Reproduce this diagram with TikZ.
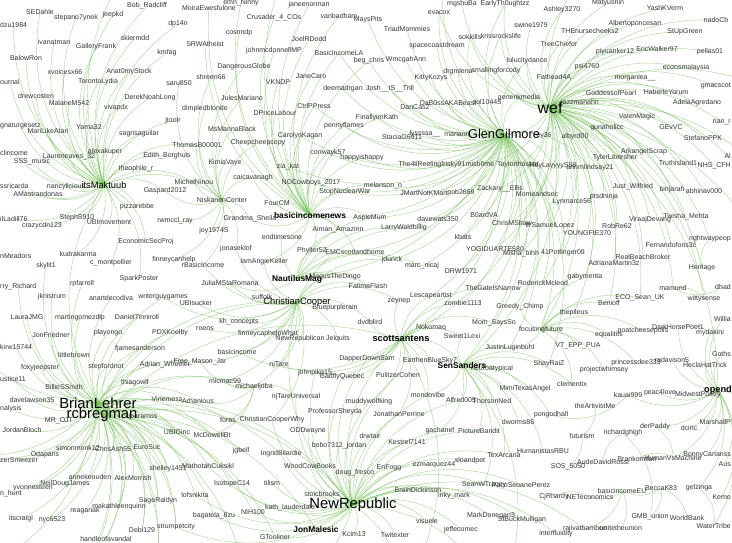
\documentclass[tikz,border=0pt]{standalone}
\usepackage{fontspec}
\setmainfont{Liberation Sans}
\usetikzlibrary{backgrounds}
\definecolor{labgray}{RGB}{55,55,55}
\definecolor{edgegreen}{RGB}{112,192,82}
\tikzset{
  lab/.style={font=\fontsize{7}{8}\selectfont, text=labgray, inner sep=0pt},
  hubwef/.style={font=\fontsize{16}{18}\selectfont, text=black, inner sep=0pt},
  hubglen/.style={font=\fontsize{12.8}{14}\selectfont, text=black, inner sep=0pt},
  hubbig/.style={font=\fontsize{14.8}{16}\selectfont, text=black, inner sep=0pt},
  hubmid/.style={font=\fontsize{9.3}{10}\selectfont, text=black, inner sep=0pt},
  hubbold/.style={font=\bfseries\fontsize{8.4}{9}\selectfont, text=black, inner sep=0pt},
  hubscott/.style={font=\bfseries\fontsize{9.2}{10}\selectfont, text=black, inner sep=0pt},
  conn/.style={draw=edgegreen, line width=0.45pt, opacity=0.6},
}
\newcommand\nd[4]{\node[lab] (#1) at (#2,#3) {#4};}
\newcommand\ndw[4]{\node[lab,anchor=west] (#1) at (#2,#3) {#4};}
\newcommand\nde[4]{\node[lab,anchor=east] (#1) at (#2,#3) {#4};}
\begin{document}
\begin{tikzpicture}[x=1pt,y=-1pt]
\useasboundingbox (0,0) rectangle (732,542);
% ---------- hubs
\node[hubwef] (wef) at (550,108) {wef};
\node[hubglen] (glen) at (504,134) {GlenGilmore};
\node[hubbig] (brian) at (98,403) {BrianLehrer};
\node[hubbig] (rcb) at (102,415) {rcbregman};
\node[hubbig] (newrep) at (353,505) {NewRepublic};
\node[hubmid] (itsmaktuub) at (104,185) {itsMaktuub};
\node[hubmid] (christian) at (297,302) {ChristianCooper};
\node[hubbold] (nautilus) at (297,279) {NautilusMag};
\node[hubbold] (bin) at (310,215) {basicincomenews};
\node[hubscott] (scott) at (401,339) {scottsantens};
\node[hubbold] (sensanders) at (462,365) {SenSanders};
\node[hubbold] (jonmalesic) at (316,529) {JonMalesic};
\node[hubscott,anchor=east] (opend) at (732,390) {opend};
% ---------- top-left
\nd{sedahle}{40}{12}{SEDahle}
\nd{stepano}{76}{18}{stepano7ynek}
\nd{jeepkd}{113}{15}{jeepkd}
\nd{bobrad}{147}{6}{Bob\_Radcliff}
\ndw{dzu}{0}{25}{dzu1984}
\nd{ivanatman}{54}{42}{ivanatman}
\nd{galleryfrank}{96}{47}{GalleryFrank}
\nd{skiermdd}{135}{38}{skiermdd}
\nd{dpfourteen}{178}{24}{dp14n}
\nd{kmfag}{167}{53}{kmfag}
\nd{balowron}{26}{58}{BalowRon}
\ndw{ournal}{0}{82}{ournal}
\nd{xvoices}{65}{72}{xvoicesx66}
\nd{anatomy}{129}{72}{Anat0myStock}
\nd{toronto}{98}{82}{TorontoLydia}
\nd{saru}{179}{83}{saru850}
\nd{drewcosten}{36}{96}{drewcosten}
\nd{malarie}{69}{103}{MalarieM542}
\nd{dereknoah}{150}{98}{DerekNoahLong}
\nd{vivapdx}{116}{108}{vivapdx}
\nd{dimpled}{205}{109}{dimpledblonde}
\ndw{gnatur}{0}{126}{gnaturgesetz}
\nd{jtoolr}{173}{121}{jtoolr}
\nd{marilike}{48}{131}{MariLikeAtari}
\nd{yama}{89}{127}{Yama32}
\nd{sagris}{139}{134}{sagrisaguilar}
\nd{thomasb}{197}{145}{ThomasB00001}
\ndw{clincome}{0}{153}{clincome}
\nd{alexakuper}{105}{152}{alexakuper}
\nd{sssmusic}{32}{162}{SSS\_music}
\nd{laureneaves}{69}{157}{Laureneaves\_32}
\nd{edith}{167}{156}{Edith\_Borghuis}
\nd{theophile}{136}{169}{theophile\_r}
\nd{michelninou}{194}{182}{MichelNinou}
% ---------- top-middle
\nd{emnninny}{241}{3}{emn\_Ninny}
\nd{moira}{209}{8}{MoiraEwesfulone}
\nd{janeen}{309}{5}{janeenorman}
\nd{crusader}{274}{18}{Crusader\_4\_COs}
\nd{vanbadham}{339}{16}{vanbadham}
\nd{mayspits}{368}{20}{MaysPits}
\nd{cosnndp}{239}{33}{cosnndp}
\nd{srwatheist}{205}{44}{SRWAtheist}
\nd{joelrdodd}{309}{39}{JoelRDodd}
\nd{johnmcd}{274}{51}{johnmcdonnellMP}
\nd{basicla}{339}{53}{BasicIncomeLA}
\nd{begchris}{369}{61}{beg\_chris}
\nd{dangerous}{244}{67}{DangerousGlobe}
\nd{shreen}{211}{77}{shreen66}
\nd{vkndp}{278}{82}{VKNDP}
\nd{janecaro}{311}{76}{JaneCaro}
\nd{deemadrgan}{343}{89}{deemadrgan}
\nd{joshis}{390}{89}{Josh\_\_IS\_\_Trill}
\nd{julesmariano}{242}{98}{JulesMariano}
\nd{ctrlp}{314}{106}{CtrlPPress}
\nd{dprice}{275}{113}{DPriceLabour}
\nd{finally}{377}{118}{FinallyimKath}
\nd{penny}{344}{126}{pennyflames}
\nd{msmarina}{232}{129}{MsMarinaBlack}
\nd{carolyn}{300}{136}{CarolynKagan}
\nd{cheep}{258}{143}{Cheepcheepcopy}
\nd{conwayk}{328}{153}{conwayk57}
\nd{happyis}{362}{158}{happyishappy}
\nd{kimia}{225}{163}{KimiaVaye}
\nd{ziakat}{288}{167}{zia\_kat}
\nd{caicavanagh}{253}{178}{caicavanagh}
\nd{nocowboys}{311}{183}{NOCowboys\_2017}
% ---------- top, around GlenGilmore
\nd{mgshu}{462}{4}{mgshuBa}
\nd{early}{505}{4}{EarlyTh0ughtzz}
\nd{evacox}{439}{13}{evacox}
\nd{ashley}{562}{10}{Ashley3270}
\nd{triad}{407}{29}{TriadMommies}
\nd{swine}{531}{25}{swine1979}
\nd{sokkills}{470}{37}{sokkills}
\nd{kriss}{501}{36}{krissrockslife}
\nd{spacecoast}{437}{46}{spacecoastdream}
\nd{treechief}{559}{44}{TreeChiefor}
\nd{wmcgah}{406}{60}{WmcgahAnn}
\nd{lulucity}{527}{61}{lulucitydance}
\nd{drgmlena}{458}{72}{drgmlena}
\nd{smalling}{496}{71}{smallingforcody}
\nd{fathead}{554}{77}{Fathead4A}
\nd{kitty}{431}{78}{KittyKozys}
\nd{generik}{519}{98}{generikmedia}
\nd{dabossaka}{448}{103}{DaB0ssAKABeast}
\nd{sol}{487}{102}{sol10445}
\nd{dancas}{415}{107}{DanCas2}
\nd{stacia}{402}{137}{StaciaG6911}
\nd{lyssa}{425}{134}{lyssssa\_\_}
\nd{mariann}{457}{134}{mariann}
\nd{the4ll}{432}{165}{The4llReelingfrisky91}
\nd{misb}{480}{164}{misb0me}
\nd{taylor}{518}{165}{Taylorthasbat}
\nd{eythirtysix}{544}{136}{ey36}
\nd{heylay}{553}{166}{HeyLayyyyS58}
% ---------- top-right
\nd{matyushin}{608}{3}{Matyushin}
\nd{yashk}{665}{8}{YashKVerm}
\nd{alberto}{635}{24}{Albertoponcesan}
\nd{thenurse}{590}{31}{THEnursecheeks2}
\nd{nadocb}{716}{20}{nadoCb}
\nd{stupgreen}{685}{32}{StUpGreen}
\nd{piyuan}{615}{52}{piyuanker12}
\nd{ericwalker}{657}{49}{EricWalker97}
\nd{pellas}{710}{52}{pellas01}
\nd{psi}{587}{67}{psi4760}
\nd{econs}{686}{68}{econsmalaysia}
\nd{morganlea}{635}{78}{morganlea\_\_}
\nde{gmacs}{731}{86}{gmacscot}
\nd{goddess}{611}{93}{GoddessofPearl}
\nd{haberle}{666}{92}{HaberleYorum}
\nd{jazzman}{580}{103}{jazzmanahn}
\nd{adela}{697}{103}{AdelaAgredano}
\nd{valen}{637}{117}{ValenMagic}
\nde{rianr}{731}{122}{rian\_r}
\nd{gunaholicc}{607}{128}{gunaholicc}
\nd{gevvc}{671}{127}{GEvVC}
\nd{albyrd}{575}{137}{albyrd00}
\nd{stefano}{703}{138}{StefanoPPK}
\nd{arkangel}{644}{152}{ArkangelScrap}
\nd{tyler}{615}{158}{TylerLibersher}
\nd{truthisland}{678}{163}{Truthisland1}
\nde{nhscfh}{731}{166}{NHS\_CFH}
\nde{al}{731}{156}{Al}
\nd{annm}{590}{168}{annmlindsay21}
% ---------- middle right
\nd{melanson}{383}{186}{melanson\_n}
\nd{stopnuclear}{345}{192}{StopNuclearWar}
\nd{jmart}{424}{193}{JMartNotKMart}
\nd{pob}{461}{193}{pob2669}
\nd{zackary}{500}{189}{Zackary\_\_Ellis}
\nd{momeand}{537}{194}{Momeandsec}
\nd{lynmarce}{572}{202}{Lynmarce56}
\nd{ptsd}{604}{197}{ptsdninja}
\nd{justwil}{633}{187}{Just\_Wilfried}
\nd{binjarah}{672}{190}{binjarah}
\nd{abhinav}{704}{191}{abhinav000}
\nd{boardva}{484}{215}{B0ardVA}
\nd{davewats}{438}{219}{davewats350}
\nd{larryw}{404}{228}{LarryWaldbillig}
\nd{chrism}{512}{223}{ChrisMShaw}
\nd{lfrsamuel}{550}{226}{lfrSamuelLopez}
\nd{kbats}{463}{237}{kbats}
\nd{youngfie}{587}{233}{YOUNGFIE370}
\nd{robre}{617}{226}{RobRe62}
\nd{viraaj}{650}{220}{ViraajDevang}
\nd{twisha}{686}{217}{Twisha\_Mehta}
\nd{yogi}{495}{249}{YOGIDUARTE580}
\nd{misha}{521}{254}{Misha\_bihh}
\nd{pottinger}{563}{253}{41Pottinger09}
\nd{fernando}{671}{245}{Fernandofons3c}
\nde{rightway}{731}{239}{rightwaypeop}
\nd{realbeach}{643}{257}{RealBeachBroker}
\nd{adriana}{614}{263}{AdrianaMartin3z}
\nd{heritage}{702}{268}{Heritage}
\nd{jdunck}{392}{260}{jdunck}
\nd{marcnicaj}{422}{266}{marc\_nicaj}
\nd{drw}{461}{271}{DRW1971}
\nd{gabymenta}{585}{277}{gabymenta}
\nd{roderick}{543}{283}{RoderickMcleod}
\nd{thegate}{493}{288}{TheGateIsNarrow}
\nd{mamund}{673}{288}{mamund}
\nde{dhad}{731}{287}{dhad}
\nd{lescape}{431}{296}{Lescapeartist}
\nd{zeynep}{399}{301}{zeynep}
\nd{zombie}{463}{303}{zombie1113}
\nd{greedy}{520}{307}{Greedy\_Chimp}
\nd{benioff}{609}{303}{Benioff}
\nd{ecosean}{640}{298}{ECO\_Sean\_UK}
\nd{witty}{704}{299}{wittysense}
\nd{thepileus}{574}{313}{thepileus}
\nde{willia}{731}{319}{Willia}
\nd{nokomaq}{431}{328}{Nokomaq}
\nd{momsays}{494}{323}{Mom\_SaysSo}
\nd{focusing}{541}{330}{focusingfuture}
\nd{sweetlexi}{462}{336}{Sweet1Lexi}
\nd{equalitits}{609}{335}{equalitits}
\nd{goatcheese}{643}{331}{goatcheesepolls}
\nd{darkhorse}{678}{327}{DarkHorsePoet1}
\nd{mydakini}{710}{333}{mydakini}
\nd{vtepp}{578}{346}{VT\_EPP\_PUA}
\nd{justinl}{510}{348}{JustinLuginbuhl}
\nde{goths}{731}{354}{Goths}
% ---------- lower right
\nd{shayraiz}{549}{364}{ShayRaiZ}
\nd{princessdee}{636}{363}{princessdee333}
\nd{radavison}{672}{360}{radavison5}
\nd{hecla}{705}{365}{HeclaHatTrick}
\nd{projectwh}{604}{370}{projectwhimsey}
\nd{clementix}{572}{384}{clementix}
\nd{mimitexas}{525}{389}{MimiTexasAngel}
\nd{kauai}{628}{395}{kauai999}
\nd{peac}{660}{393}{peac4love}
\nd{midwest}{698}{395}{MidwestPoetry}
\nd{theartivist}{595}{406}{theArtivistMe}
\nd{pongodhall}{551}{415}{pongodhall}
\nd{dworms}{518}{422}{dworms86}
\nd{derpaddy}{655}{427}{derPaddy}
\nd{dciric}{689}{428}{dciric}
\nde{marshallp}{731}{422}{MarshallP}
\nd{futurism}{582}{436}{futurism}
\nd{richardghigh}{623}{433}{richardghigh}
\nd{humanistas}{543}{451}{HumanistasRBU}
\nd{aude}{603}{462}{AudeDavidRossi}
\nd{branko}{637}{459}{Brankomilan}
\nd{humanvs}{673}{458}{HumanVsMachine}
\nde{bonny}{731}{455}{BonnyCarlanss}
\nde{aus}{731}{464}{Aus}
\nd{sos}{568}{467}{SOS\_5050}
\nd{seanw}{484}{485}{SeanWTracey}
\nd{paco}{521}{485}{PacoSeoanePerez}
\nd{cjrhardy}{554}{497}{CjRhardy}
\nd{neteco}{590}{497}{NETeconomics}
\nd{basiceu}{622}{491}{basicincomeEU}
\nd{becca}{661}{488}{BeccaK83}
\nd{gelzinga}{699}{488}{gelzinga}
\nde{kemo}{731}{497}{Kemo}
\nd{gmb}{650}{517}{GMB\_union}
\nd{worldbank}{687}{518}{WorldBank}
\nde{watertribe}{731}{526}{WaterTribe}
\nd{rajiv}{585}{529}{rajivatbamboo}
\nd{unitethe}{621}{528}{unitetheunion}
\nd{stbuck}{522}{520}{StBuckMulligan}
\nd{interflu}{556}{534}{interfluidity}
% ---------- lower middle
\nd{earthen}{430}{361}{EarthenBlueSky7}
\nd{dapper}{367}{359}{DapperDownSam}
\nd{neuro}{492}{369}{neuroatypical}
\nd{pulitzer}{398}{375}{PulitzerCohen}
\nd{mondovibe}{428}{395}{mondovibe}
\nd{alfred}{461}{400}{Alfred005}
\nd{thorson}{492}{401}{ThorsonNed}
\nd{muddy}{369}{402}{muddywolfking}
\nd{jonathanp}{399}{414}{JonathanPerrine}
\nd{gachanef}{440}{431}{gachanef}
\nd{picture}{479}{431}{PictureBandit}
\nd{drwtair}{370}{436}{drwtair}
\nd{kestrel}{407}{442}{Kestrel7141}
\nd{bobo}{339}{446}{bobo7312\_jordan}
\nd{texarcana}{504}{455}{TexArcana}
\nd{ezmarquez}{434}{465}{ezmarquez44}
\nd{sloandpet}{470}{461}{sloandpet}
\nd{enfogg}{389}{468}{EnFogg}
\nd{dougfresco}{355}{473}{doug\_fresco}
\nd{braind}{418}{490}{BrainDickinson}
\nd{inkymark}{454}{496}{inky\_mark}
\nd{markdon}{491}{516}{MarkDonegan3}
\nd{visuele}{427}{521}{visuele}
\nd{jeffe}{461}{530}{jeffecomec}
\nd{twitexter}{395}{535}{Twitexter}
\nd{kcim}{354}{534}{Kcim13}
\nd{freemason}{200}{362}{Free\_Mason\_Jar}
\nd{njtare}{279}{365}{njTare}
\nd{johnpikg}{315}{373}{johnpikg15}
\nd{gadfly}{342}{377}{GadflyQuebec}
\nd{micmac}{225}{381}{micmac99}
\nd{michaeljdba}{254}{387}{michaeljdba}
\nd{njtareuni}{296}{397}{njTareUniversal}
\nd{arhanious}{198}{401}{Arhanious}
\nd{vinemess}{167}{399}{Vinemess}
\nd{profsheyda}{335}{412}{ProfessorSheyda}
\nd{foras}{228}{420}{foras}
\nd{ccwhy}{272}{420}{ChristianCooperWhy}
\nd{ubiginc}{177}{432}{UBIGinc}
\nd{mcdowell}{212}{435}{McDowellBt}
\nd{oddwayne}{308}{431}{ODDwayne}
\nd{jgbell}{241}{451}{jgbell}
\nd{ingrid}{281}{454}{IngridBilardie}
\nd{woodcow}{310}{466}{WoodCowBooks}
\nd{mathotah}{208}{466}{MathotahCuksikl}
\nd{shelley}{168}{469}{shelley1451}
\nd{isotope}{232}{484}{IsotopeC14}
\nd{tilism}{272}{483}{tilism}
\nd{lofsnikita}{195}{495}{lofsnikita}
\nd{stoic}{322}{494}{stoicbrooks}
\nd{kathl}{290}{508}{kath\_lauderdale}
\nd{nih}{253}{512}{NIH100}
\nd{bagatela}{214}{516}{bagatela\_8zu}
\nd{strumpet}{176}{527}{strumpetcity}
\nd{gtooliner}{275}{537}{GTooliner}
% ---------- lower left
\nd{foxyjeep}{40}{368}{foxyjeepster}
\nd{stepfordnot}{106}{367}{stepfordnot}
\nd{adrianw}{165}{365}{Adrian\_Wheeler}
\ndw{ustice}{0}{379}{ustice11}
\nd{billie}{64}{387}{BillieSSmith}
\nd{thiago}{135}{383}{thiagowlf}
\nd{davelawson}{32}{400}{davelawson35}
\ndw{nalysis}{0}{409}{nalysis}
\nd{mroj}{59}{421}{MR\_OJT}
\nd{jparamos}{143}{417}{jparamos}
\nd{jordanb}{22}{430}{JordanBloch}
\nd{simonmonk}{78}{448}{simonmonk12}
\nd{chrisash}{113}{449}{ChrisAsh55}
\nd{eurosuc}{147}{447}{EuroSuc}
\nd{odaparis}{45}{455}{Odaparis}
\ndw{zersmeezer}{0}{460}{zerSmeezer}
\nd{annekeouden}{90}{477}{annekeouden}
\nd{alexmorrish}{133}{478}{AlexMorrish}
\nd{neildoug}{65}{484}{NeilDougJames}
\nd{yvonne}{33}{488}{yvonnesteen}
\ndw{nhunt}{0}{494}{n\_hunt}
\nd{sageraldyn}{158}{501}{SageRaldyn}
\nd{makathleen}{119}{507}{makathleenquinn}
\nd{reaganak}{85}{511}{reaganak}
\nd{itscraigl}{21}{519}{itscraigl}
\nd{nyc}{52}{520}{nyc6523}
\nd{debi}{142}{530}{Debi129}
\nd{handleofa}{106}{539}{handleofavandal}
% ---------- middle left
\ndw{ssricarda}{0}{186}{ssricarda}
\nd{nancy}{66}{187}{nancylicious}
\nd{amastran}{38}{194}{AMastrandonas}
\nd{gaspard}{165}{191}{Gaspard2012}
\nd{pizzarebbe}{137}{207}{pizzarebbe}
\ndw{illadill}{0}{219}{ilLadill76}
\nd{crazycdn}{42}{226}{crazycdn123}
\nd{stephs}{77}{218}{StephS910}
\nd{ubimove}{109}{222}{UBImovement}
\nd{rwmccl}{175}{221}{rwmccl\_ray}
\nd{economicsec}{146}{242}{EconomicSecProj}
\ndw{nmeadors}{0}{256}{nMeadors}
\nd{kudrakarma}{78}{254}{kudrakarma}
\nd{cmontp}{111}{263}{c\_montpellier}
\nd{finneycan}{174}{260}{finneycanhelp}
\nd{rbasic}{203}{265}{rBasicIncome}
\nd{skylit}{46}{266}{skylit1}
\ndw{rryrichard}{0}{287}{rry\_Richard}
\nd{rpfarrell}{82}{284}{rpfarrell}
\nd{sparkposter}{139}{279}{SparkPoster}
\nd{jknistrum}{52}{297}{jknistrum}
\nd{anartdeco}{111}{298}{anartdecodiva}
\nd{writerguy}{163}{297}{writerguygames}
\nd{ubisucker}{196}{303}{UBIsucker}
\nd{laurajmg}{27}{317}{LauraJMG}
\nd{martingomez}{80}{318}{martingomezdlp}
\nd{danieltin}{137}{317}{DanielTinniroll}
\nd{jonfriedner}{51}{335}{JonFriedner}
\nd{playongo}{108}{333}{playongo}
\nd{pdxkoelby}{170}{333}{PDXKoelby}
\ndw{kirw}{0}{347}{kirw15744}
\nd{littlebrown}{74}{355}{littlebrown}
\nd{fjames}{140}{349}{fjamesanderson}
% ---------- centre
\nd{niskanen}{222}{200}{NiskanenCenter}
\nd{fourcm}{277}{203}{FourCM}
\nd{aspiemum}{370}{218}{AspieMum}
\nd{grandma}{250}{219}{Grandma\_Sheila}
\nd{joy}{214}{231}{joy1974S}
\nd{aiman}{338}{230}{Aiman\_Amazinn}
\nd{endtimes}{282}{237}{endtimesone}
\nd{jonaseklof}{236}{249}{jonaseklof}
\nd{phylter}{312}{251}{Phylter52}
\nd{emcscot}{355}{252}{EMCscotlandhome}
\nd{iamangie}{264}{262}{IamAngieKeller}
\nd{magus}{335}{277}{MagusTheDingo}
\nd{fatima}{368}{286}{FatimaFlash}
\nd{julia}{230}{283}{JuliaMStaRomana}
\nd{suffolk}{262}{297}{suffolk}
\nd{bluepurple}{335}{308}{Bluepurplerain}
\nd{dvdblird}{370}{322}{dvdblird}
\nd{khconcepts}{239}{322}{kh\_concepts}
\nd{roens}{205}{329}{roens}
\nd{finneycap}{268}{334}{finneycaphelpWhat}
\nd{newrepublican}{300}{339}{NewRepublican}
\nd{jelquits}{338}{339}{Jelquits}
\nd{basicincome}{237}{352}{basicincome}
% ---------- off-picture ends
\coordinate (oLa) at (-60,300);
\coordinate (oLb) at (-60,450);
\coordinate (oLc) at (-40,580);
\coordinate (oBa) at (60,600);
\coordinate (oBb) at (150,600);
\coordinate (oBc) at (250,600);
\coordinate (oBd) at (400,600);
\coordinate (oBe) at (500,600);
\coordinate (oRa) at (790,100);
\coordinate (oRb) at (790,200);
\coordinate (oRc) at (790,300);
\coordinate (oRd) at (790,450);
\coordinate (oTa) at (300,-60);
\coordinate (oTb) at (450,-60);
\coordinate (oTc) at (620,-60);
\coordinate (oTd) at (150,-60);
% ---------- connectors
\begin{scope}[on background layer]
\fill[white] (0,0) rectangle (732,542);
\clip (0,0) rectangle (732,542);
\foreach \t in {ashley,swine,treechief,lulucity,fathead,matyushin,yashk,alberto,thenurse,nadocb,stupgreen,piyuan,ericwalker,pellas,psi,econs,morganlea,gmacs,goddess,haberle,jazzman,adela,valen,rianr,gunaholicc,gevvc,albyrd,stefano,arkangel,tyler,truthisland,nhscfh,al,annm,heylay,justwil,binjarah,abhinav,lynmarce,ptsd,twisha,viraaj,robre,youngfie,lfrsamuel,momeand,kriss,early,generik,smalling,taylor,misb,eythirtysix,glen,fernando,realbeach,adriana,pottinger,misha,chrism,zackary,yogi,sokkills,evacox,mgshu,oRa,oRb,oRc,oTc,gabymenta,roderick,thepileus,benioff,focusing,heritage,rightway,mamund,witty,ecosean,scott,sensanders,opend}
  \draw[conn] (wef.center) to[bend left=30] (\t.center);
\foreach \t in {spacecoast,kitty,drgmlena,dabossaka,sol,dancas,stacia,lyssa,mariann,the4ll,misb,taylor,zackary,jmart,pob,melanson,stopnuclear,momeand,chrism,lfrsamuel,boardva,davewats,larryw,kbats,yogi,drw,thegate,roderick,greedy,momsays,zombie,lescape,focusing,justinl,shayraiz,happyis,finally,penny,conwayk,joshis,deemadrgan,wmcgah,begchris,triad,evacox,sokkills,kriss,early,lulucity,generik,jdunck,marcnicaj,misha,pottinger,heylay,annm,ziakat,nocowboys,aspiemum,emcscot,oTb,carolyn,ctrlp,mayspits,basicla,scott,sensanders,bin,nautilus}
  \draw[conn] (glen.center) to[bend left=30] (\t.center);
\foreach \t in {foxyjeep,stepfordnot,adrianw,ustice,billie,thiago,davelawson,nalysis,mroj,jparamos,jordanb,ubiginc,simonmonk,chrisash,eurosuc,odaparis,zersmeezer,shelley,annekeouden,alexmorrish,neildoug,yvonne,nhunt,sageraldyn,makathleen,reaganak,itscraigl,nyc,debi,strumpet,handleofa,vinemess,arhanious,freemason,mcdowell,mathotah,lofsnikita,kirw,littlebrown,fjames,jonfriedner,playongo,laurajmg,martingomez,danieltin,jknistrum,oLa,oLb,oLc,oBa,oBb,oBc,christian,itsmaktuub,newrep}
  \draw[conn] (brian.center) to[bend left=30] (\t.center);
\foreach \t in {isotope,bagatela,micmac,michaeljdba,foras,jgbell,newrep,rpfarrell,anartdeco,pdxkoelby,skylit,rryrichard,writerguy,oBa,oBb,oLb,jonmalesic,debi,handleofa,sageraldyn,makathleen,strumpet,shelley,eurosuc,chrisash,mcdowell,ubiginc,nih,gtooliner,ingrid,christian,scott}
  \draw[conn] (rcb.center) to[bend left=30] (\t.center);
\foreach \t in {stoic,kathl,nih,gtooliner,jonmalesic,kcim,twitexter,visuele,jeffe,markdon,inkymark,braind,enfogg,dougfresco,ezmarquez,sloandpet,kestrel,drwtair,bobo,woodcow,ingrid,oddwayne,profsheyda,muddy,jonathanp,gachanef,picture,texarcana,seanw,paco,stbuck,mondovibe,pulitzer,gadfly,johnpikg,njtareuni,tilism,isotope,bagatela,ccwhy,dapper,interflu,rajiv,alfred,scott,oBc,oBd,oBe,strumpet,lofsnikita,mathotah,christian}
  \draw[conn] (newrep.center) to[bend left=30] (\t.center);
\foreach \t in {sedahle,stepano,jeepkd,ivanatman,galleryfrank,skiermdd,balowron,xvoices,anatomy,toronto,drewcosten,malarie,dereknoah,vivapdx,marilike,yama,sagris,alexakuper,sssmusic,laureneaves,edith,theophile,clincome,gnatur,ournal,dzu,ssricarda,nancy,amastran,gaspard,pizzarebbe,stephs,ubimove,illadill,crazycdn,economicsec,kudrakarma,cmontp,sparkposter,michelninou,jtoolr,thomasb,bobrad,oTd,kmfag,dpfourteen,niskanen}
  \draw[conn] (itsmaktuub.center) to[bend left=30] (\t.center);
\foreach \t in {michelninou,caicavanagh,kimia,msmarina,joy,grandma,rwmccl,gaspard,jonaseklof,cheep,thomasb,finneycan,rbasic,dimpled,julesmariano,shreen,dangerous,saru}
  \draw[conn] (niskanen.center) to[bend left=30] (\t.center);
\foreach \t in {fourcm,nocowboys,stopnuclear,aspiemum,aiman,endtimes,phylter,emcscot,ziakat,conwayk,grandma,iamangie,caicavanagh,carolyn,happyis,melanson,dprice,vkndp,janecaro,ctrlp,penny,finally,johnmcd,joelrdodd,basicla,begchris,crusader,vanbadham,janeen,moira,emnninny,cosnndp,srwatheist,oTa}
  \draw[conn] (bin.center) to[bend left=30] (\t.center);
\foreach \t in {suffolk,julia,bluepurple,khconcepts,finneycap,newrepublican,jelquits,fatima,magus,jonaseklof,iamangie,ubisucker,roens,basicincome,dvdblird,zeynep,jdunck,ccwhy,micmac,michaeljdba,njtare,rbasic,writerguy,larryw,freemason}
  \draw[conn] (christian.center) to[bend left=30] (\t.center);
\foreach \t in {magus,phylter,endtimes,emcscot,fatima,larryw,jdunck,aiman,marcnicaj,aspiemum,julia}
  \draw[conn] (nautilus.center) to[bend left=30] (\t.center);
\foreach \t in {dapper,earthen,nokomaq,sweetlexi,momsays,zeynep,lescape,dvdblird,pulitzer,mondovibe,njtare,johnpikg,gadfly,basicincome,zombie,muddy,jonathanp,sensanders,thegate,oBd}
  \draw[conn] (scott.center) to[bend left=30] (\t.center);
\foreach \t in {neuro,alfred,thorson,mimitexas,dworms,pongodhall,picture,shayraiz,justinl,sweetlexi,gachanef,texarcana,humanistas,clementix,mondovibe,oBe,seanw}
  \draw[conn] (sensanders.center) to[bend left=30] (\t.center);
\foreach \t in {vtepp,thepileus,equalitits,benioff,ecosean,goatcheese,justinl,clementix,projectwh,gabymenta,greedy,princessdee}
  \draw[conn] (focusing.center) to[bend left=30] (\t.center);
\foreach \t in {midwest,peac,dciric,marshallp,derpaddy,bonny,humanvs,goths,hecla,radavison,kemo,aus,watertribe,gelzinga,mydakini,darkhorse,kauai,willia,oRd}
  \draw[conn] (opend.center) to[bend left=30] (\t.center);
\foreach \t in {micmac,arhanious,njtareuni,foras,freemason,mcdowell}
  \draw[conn] (michaeljdba.center) to[bend left=30] (\t.center);
\foreach \a/\b in {becca/gmb,becca/basiceu,becca/worldbank,basiceu/unitethe,basiceu/neteco,basiceu/rajiv,aude/richardghigh,branko/humanvs,futurism/sos,richardghigh/gmb,derpaddy/humanvs,cjrhardy/neteco,theartivist/futurism,kauai/pongodhall,heritage/rightway,mamund/witty,darkhorse/mydakini,gelzinga/watertribe,dhad/mamund}
  \draw[conn] (\a.center) to[bend left=30] (\b.center);
\end{scope}
\end{tikzpicture}
\end{document}
